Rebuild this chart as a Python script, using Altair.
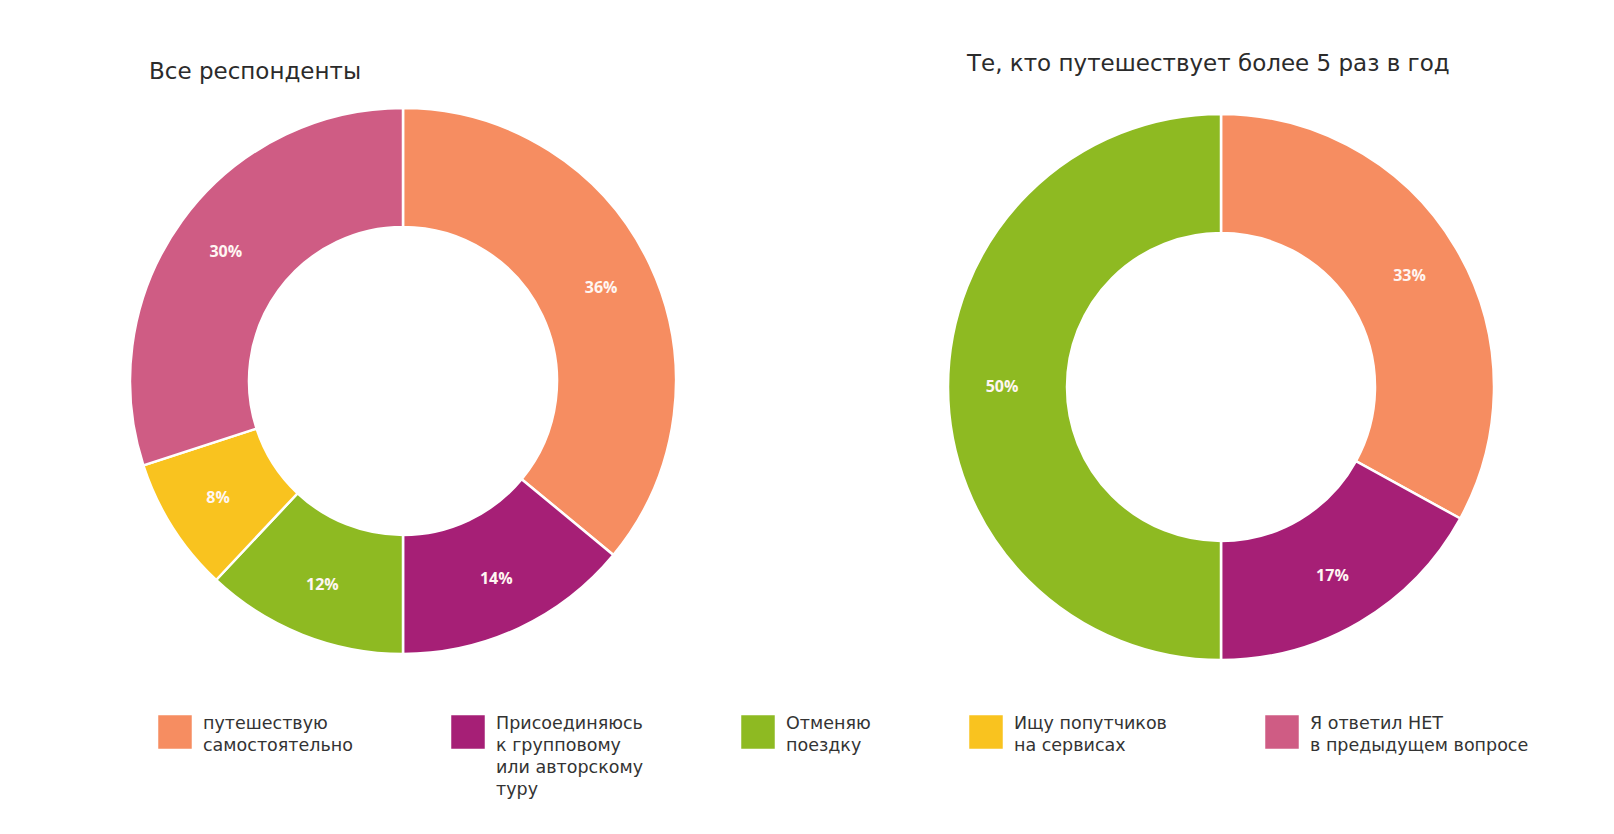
import altair as alt
import pandas as pd

CATEGORIES = [
    "путешествую самостоятельно",
    "Присоединяюсь к групповому или авторскому туру",
    "Отменяю поездку",
    "Ищу попутчиков на сервисах",
    "Я ответил НЕТ в предыдущем вопросе",
]
LABEL_LINES = [
    ["путешествую", "самостоятельно"],
    ["Присоединяюсь", "к групповому", "или авторскому", "туру"],
    ["Отменяю", "поездку"],
    ["Ищу попутчиков", "на сервисах"],
    ["Я ответил НЕТ", "в предыдущем вопросе"],
]
COLORS = ["#F68D61", "#A61F76", "#8EBA22", "#F9C31F", "#CF5C84"]

TITLE_ALL = "Все респонденты"
TITLE_FREQ = "Те, кто путешествует более 5 раз в год"
VALUES_ALL = [36, 14, 12, 8, 30]
VALUES_FREQ = [33, 17, 50, 0, 0]


def frame(values):
    rows = []
    for i, (c, v) in enumerate(zip(CATEGORIES, values)):
        if v > 0:
            rows.append({"cat": c, "idx": i, "value": v, "label": f"{v}%"})
    return pd.DataFrame(rows)


# pad every legend label to the same number of lines so entries share a height
max_lines = max(len(l) for l in LABEL_LINES)
padded = [l + [""] * (max_lines - len(l)) for l in LABEL_LINES]
label_expr = " : ".join(
    f"datum.label == '{c}' ? {lines!r}" for c, lines in zip(CATEGORIES, padded)
) + " : datum.label"

FONT = "DejaVu Sans"

legend = alt.Legend(
    title=None,
    orient="none",
    direction="horizontal",
    legendX=35,
    legendY=597,
    symbolType="M-1,0H1V2H-1Z",
    symbolSize=1122,
    symbolStrokeWidth=0,
    symbolOpacity=1,
    labelFont=FONT,
    labelFontSize=17.5,
    labelColor="#333333",
    labelLimit=400,
    labelOffset=11,
    labelBaseline="top",
    columnPadding=98,
    labelExpr=label_expr,
)


def pie(values, title, title_offset, height):
    df = frame(values)
    base = alt.Chart(df).encode(
        theta=alt.Theta("value:Q", stack=True),
        order=alt.Order("idx:Q"),
    )
    arc = base.mark_arc(innerRadius=154, outerRadius=273, stroke="white", strokeWidth=2.5).encode(
        color=alt.Color(
            "cat:N",
            scale=alt.Scale(domain=CATEGORIES, range=COLORS),
            legend=legend,
        )
    )
    text = base.mark_text(
        radius=219, font="Open Sans", fontWeight="bold", fontSize=16, fill="#FFF6F2"
    ).encode(text="label:N", detail="cat:N")
    return alt.layer(arc, text).properties(
        width=560,
        height=height,
        title=alt.TitleParams(
            title,
            anchor="start",
            dx=26,
            offset=title_offset,
            font=FONT,
            fontSize=23,
            fontWeight="normal",
            color="#2B2B2B",
        ),
    )


left = pie(VALUES_ALL, TITLE_ALL, 17, 560)
right = pie(VALUES_FREQ, TITLE_FREQ, 25, 572)

chart = (
    alt.hconcat(left, right, spacing=258, bounds="flush")
    .resolve_scale(color="shared", theta="independent")
    .properties(padding={"left": 123, "top": 53, "right": 5, "bottom": 5})
    .configure(style={"guide-label": {"lineHeight": 22}}, view=alt.ViewConfig(stroke=None))
)

chart.save("out.html", embed_options={"renderer": "svg", "actions": False})
